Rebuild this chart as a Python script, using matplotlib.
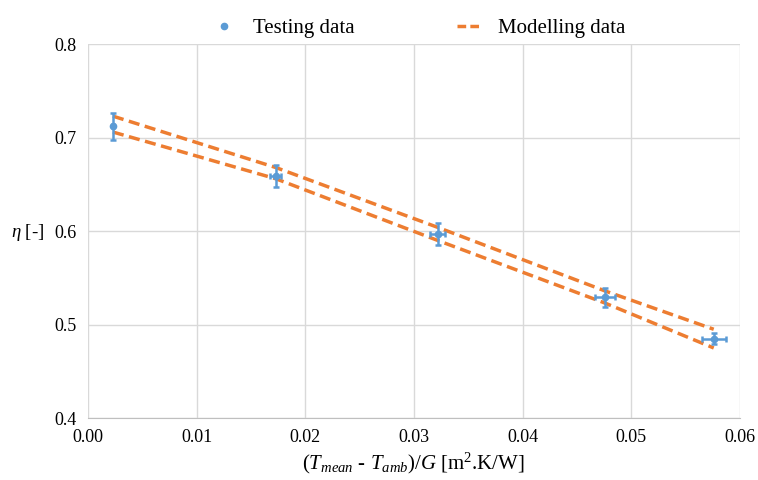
import matplotlib
matplotlib.use("Agg")
import matplotlib.pyplot as plt
from matplotlib.ticker import FormatStrFormatter
from matplotlib.lines import Line2D

plt.rcParams['font.family'] = ['Liberation Serif', 'DejaVu Serif']
plt.rcParams['mathtext.fontset'] = 'custom'
plt.rcParams['mathtext.rm'] = 'Liberation Serif'
plt.rcParams['mathtext.it'] = 'Liberation Serif:italic'

# Testing data
test_x = [0.0023, 0.0173, 0.0322, 0.0476, 0.0576]
test_y = [0.712, 0.659, 0.597, 0.529, 0.485]
test_xerr = [0.0001, 0.0005, 0.0007, 0.0009, 0.0011]
test_yerr = [0.014, 0.012, 0.012, 0.010, 0.006]

# Modelling data (upper and lower bound)
model_x = [0.0023, 0.0173, 0.0322, 0.0476, 0.0576]
model_upper = [0.723, 0.668, 0.604, 0.536, 0.495]
model_lower = [0.706, 0.656, 0.590, 0.523, 0.475]

blue = '#5B9BD5'
orange = '#ED7D31'

fig = plt.figure(figsize=(7.58, 4.8), dpi=100)
ax = fig.add_axes([0.116, 0.129, 0.86, 0.779])

ax.plot(model_x, model_upper, linestyle=(0, (3.2, 1.6)), color=orange, lw=2.5,
        label='Modelling data', zorder=2)
ax.plot(model_x, model_lower, linestyle=(0, (3.2, 1.6)), color=orange, lw=2.5, zorder=2)
ax.errorbar(test_x, test_y, xerr=test_xerr, yerr=test_yerr, fmt='o', color=blue,
            ms=4.5, elinewidth=1.8, capsize=2.5, capthick=1.8, label='Testing data', zorder=3)

ax.set_xlim(0, 0.06)
ax.set_ylim(0.4, 0.8)
ax.set_xticks([0.00, 0.01, 0.02, 0.03, 0.04, 0.05, 0.06])
ax.set_yticks([0.4, 0.5, 0.6, 0.7, 0.8])
ax.xaxis.set_major_formatter(FormatStrFormatter('%.2f'))
ax.yaxis.set_major_formatter(FormatStrFormatter('%.1f'))
ax.grid(True, color='#D9D9D9', lw=1.0)
ax.set_axisbelow(True)
for s in ['top', 'right', 'left']:
    ax.spines[s].set_visible(False)
ax.spines['bottom'].set_color('#BFBFBF')
ax.tick_params(length=0, labelsize=13, pad=8)

ax.set_xlabel(r'($T_{mean}$ - $T_{amb}$)/$G$ [m$^{2}$.K/W]', fontsize=15, labelpad=3)
ax.set_ylabel(r'$\eta$ [-]', fontsize=13.5, rotation=0, va='center', ha='center')
ax.yaxis.set_label_coords(-0.092, 0.497)

handles = [Line2D([], [], marker='o', ls='none', color=blue, ms=4.5),
           Line2D([], [], ls=(0, (2.5, 1.2)), color=orange, lw=2.5)]
fig.legend(handles, ['Testing data', 'Modelling data'], loc='upper center',
           bbox_to_anchor=(0.552, 1.0), ncol=2, frameon=False, fontsize=15,
           columnspacing=4.9, handlelength=1.2)

fig.savefig('out.png', dpi=100)
